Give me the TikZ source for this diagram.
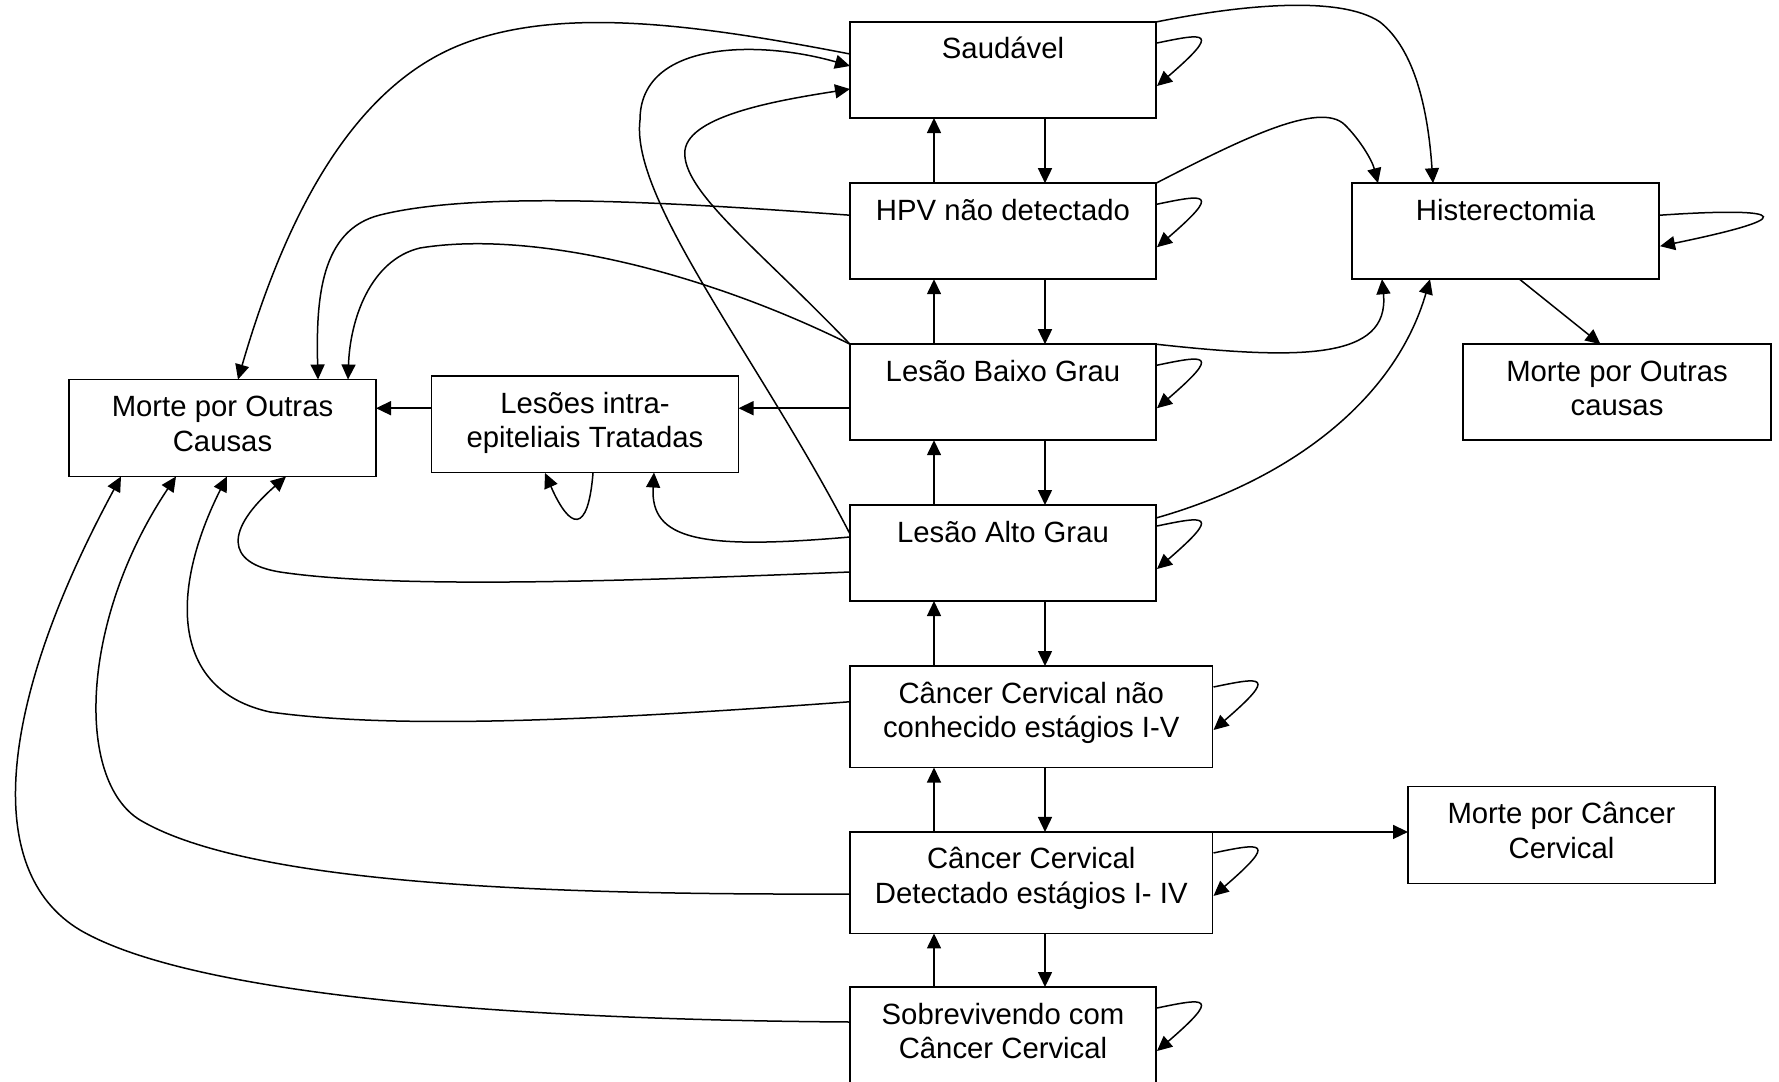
\documentclass[tikz,border=0pt]{standalone}
\usepackage{fontspec}
\setmainfont{Liberation Sans}
\usetikzlibrary{arrows.meta,calc}
\newcommand{\bt}[3]{\parbox[c][#2pt][t]{#1pt}{\centering\rule{0pt}{37pt}#3}}
\newcommand{\selfloop}[1]{\draw[con] ($(#1.north east)+(1,21)$) .. controls ($(#1.north east)+(49,11)$) and ($(#1.north east)+(66,8)$) .. ($(#1.north east)+(1,64)$);}
\begin{document}
\begin{tikzpicture}[x=1pt,y=-1pt,
  box/.style={draw, line width=1.6pt, inner sep=0pt, outer sep=0pt, font=\fontsize{29.3}{34.5}\selectfont},
  con/.style={line width=1.5pt, -{Triangle[length=15pt,width=14pt]}}]
\fill[white] (0,0) rectangle (1779,1081);
\useasboundingbox (0,0) rectangle (1779,1081);
% boxes
\node[box] (sau) at (1003,70) {\bt{306}{96}{Saudável}};
\node[box] (hpv) at (1003,231.2) {\bt{306}{96}{HPV não detectado}};
\node[box] (lbg) at (1003,392.2) {\bt{306}{96}{Lesão Baixo Grau}};
\node[box] (lag) at (1003,553) {\bt{306}{96}{Lesão Alto Grau}};
\node[box] (ccn) at (1031.25,716.75) {\bt{362.5}{101.5}{Câncer Cervical não\\conhecido estágios I-V}};
\node[box] (ccd) at (1031.25,882.7) {\bt{362.5}{101.5}{Câncer Cervical\\Detectado estágios I- IV}};
\node[box] (sob) at (1003,1035) {\bt{306}{96}{Sobrevivendo com\\Câncer Cervical}};
\node[box] (his) at (1505.5,231.2) {\bt{307}{96}{Histerectomia}};
\node[box] (moc) at (1617,392.2) {\bt{308}{96}{Morte por Outras\\causas}};
\node[box] (mcc) at (1561.5,835) {\bt{307}{97}{Morte por Câncer\\Cervical}};
\node[box] (mol) at (222.5,428) {\bt{307}{97}{Morte por Outras\\Causas}};
\node[box] (lit) at (585,424.25) {\bt{307}{96.5}{Lesões intra-\\epiteliais Tratadas}};
% vertical arrows
\coordinate (dn) at (1045,0);
\coordinate (up) at (934,0);
\draw[con] (dn |- sau.south) -- (dn |- hpv.north);
\draw[con] (up |- hpv.north) -- (up |- sau.south);
\draw[con] (dn |- hpv.south) -- (dn |- lbg.north);
\draw[con] (up |- lbg.north) -- (up |- hpv.south);
\draw[con] (dn |- lbg.south) -- (dn |- lag.north);
\draw[con] (up |- lag.north) -- (up |- lbg.south);
\draw[con] (dn |- lag.south) -- (dn |- ccn.north);
\draw[con] (up |- ccn.north) -- (up |- lag.south);
\draw[con] (dn |- ccn.south) -- (dn |- ccd.north);
\draw[con] (up |- ccd.north) -- (up |- ccn.south);
\draw[con] (dn |- ccd.south) -- (dn |- sob.north);
\draw[con] (up |- sob.north) -- (up |- ccd.south);
% self loops
\selfloop{sau}
\selfloop{hpv}
\selfloop{lbg}
\selfloop{lag}
\selfloop{ccn}
\selfloop{ccd}
\selfloop{sob}
\draw[con] ($(his.north east)+(1,32)$) .. controls ($(his.north east)+(101,25)$) and ($(his.north east)+(166,29)$) .. ($(his.north east)+(1,63)$);
\draw[con] ($(lit.south)+(8,0.5)$) .. controls ($(lit.south)+(3,62.5)$) and ($(lit.south)+(-15,57.5)$) .. ($(lit.south)+(-40,0.5)$);
% horizontal arrows
\coordinate (a1) at ([yshift=-16pt]lbg.west);
\draw[con] (a1) -- (a1 -| lit.east);
\draw[con] (a1 -| lit.west) -- (a1 -| mol.east);
\draw[con] (ccd.north east) -- (ccd.north east -| mcc.west);
\draw[con] ([xshift=14pt]his.south) -- ([xshift=-16.5pt]moc.north);
% curves to Saudavel
\draw[con] ([yshift=19pt]lag.west) .. controls (760,360) and (630,200) .. (640,120) .. controls (640,40) and (760,40) .. ([yshift=4pt]sau.west);
\draw[con] (lbg.north west) .. controls (760,250) and (680,190) .. (685,150) .. controls (690,115) and (780,100) .. ([yshift=-19pt]sau.west);
% curves to Histerectomia
\draw[con] (sau.north east) .. controls (1240,5) and (1340,-5) .. (1380,22) .. controls (1415,50) and (1428,110) .. ([xshift=-72.5pt]his.north);
\draw[con] (hpv.north east) .. controls (1240,140) and (1320,100) .. (1345,125) .. controls (1360,140) and (1372,160) .. ([xshift=-127.5pt]his.north);
\draw[con] (lbg.north east) .. controls (1300,360) and (1390,360) .. ([xshift=-123.5pt]his.south);
\draw[con] ([yshift=-13pt]lag.north east) .. controls (1290,480) and (1395,400) .. ([xshift=-75.5pt]his.south);
% curves to Morte por Outras Causas (left)
\draw[con] ([yshift=16pt]sau.west) .. controls (700,25) and (560,5) .. (460,45) .. controls (360,85) and (290,200) .. ([xshift=15.5pt]mol.north);
\draw[con] ([yshift=16pt]hpv.west) .. controls (680,203) and (480,190) .. (380,215) .. controls (320,230) and (316,300) .. ([xshift=95.5pt]mol.north);
\draw[con] (lbg.north west) .. controls (700,270) and (530,230) .. (420,248) .. controls (370,260) and (350,320) .. ([xshift=125.5pt]mol.north);
\draw[con] ([yshift=16pt]lag.west) .. controls (700,550) and (650,540) .. ([xshift=69pt]lit.south);
\draw[con] ([yshift=-19pt]lag.west) .. controls (650,580) and (400,590) .. (280,572) .. controls (225,563) and (225,530) .. ([xshift=63.5pt]mol.south);
\draw[con] ([yshift=15pt]ccn.west) .. controls (600,720) and (400,730) .. (270,712) .. controls (170,690) and (170,590) .. ([xshift=4.5pt]mol.south);
\draw[con] ([yshift=-11.3pt]ccd.west) .. controls (550,895) and (250,885) .. (140,820) .. controls (75,780) and (80,620) .. ([xshift=-46.5pt]mol.south);
\draw[con] ([yshift=13pt]sob.west) .. controls (550,1020) and (200,1000) .. (80,930) .. controls (-20,870) and (0,700) .. ([xshift=-101.5pt]mol.south);
\end{tikzpicture}
\end{document}
